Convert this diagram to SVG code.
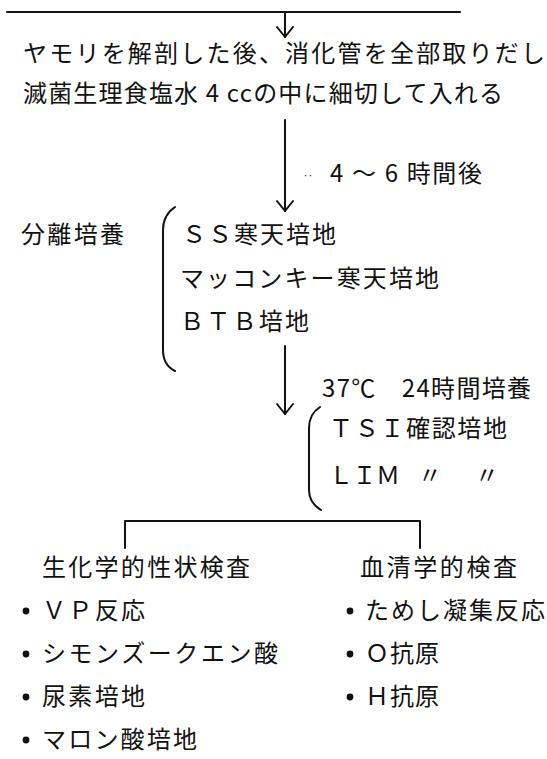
<svg xmlns="http://www.w3.org/2000/svg" width="547" height="759" viewBox="0 0 547 759">
<style>
text{font-family:"Noto Sans CJK JP","Noto Sans CJK SC",sans-serif;font-size:24px;fill:#111;}
.ln{stroke:#111;stroke-width:2;fill:none;stroke-linecap:round;stroke-linejoin:round;}
.dot{fill:#111;}
</style>
<rect width="547" height="759" fill="#fff"/>
<g id="connectors">
<line class="ln" x1="7" y1="12" x2="460" y2="12"/>
<line class="ln" x1="285" y1="12" x2="285" y2="37"/>
<polyline class="ln" points="277,27 285,37 293,27"/>
<line class="ln" x1="285" y1="120" x2="285" y2="211"/>
<polyline class="ln" points="277,201 285,211 293,201"/>
<line class="ln" x1="285" y1="346" x2="285" y2="414"/>
<polyline class="ln" points="277,404 285,414 293,404"/>
<path class="ln" d="M125,548 L125,521 L420,521 L420,548"/>
</g>
<g id="step1">
<text x="23" y="62" textLength="522" lengthAdjust="spacing">ヤモリを解剖した後、消化管を全部取りだし</text>
<text x="23" y="102" textLength="480" lengthAdjust="spacing">滅菌生理食塩水 4 ccの中に細切して入れる</text>
</g>
<g id="label1">
<text x="303" y="180" style="font-size:10px">‥</text>
<text x="330" y="182" textLength="152" lengthAdjust="spacing">4 ～ 6 時間後</text>
</g>
<g id="isolation">
<text x="21" y="243" textLength="103" lengthAdjust="spacing">分離培養</text>
<path class="ln" d="M175,207 Q163,215 163,230 L163,350 Q163,365 175,371"/>
<text x="182" y="243" textLength="154" lengthAdjust="spacing">ＳＳ寒天培地</text>
<text x="180" y="287" textLength="259" lengthAdjust="spacing">マッコンキー寒天培地</text>
<text x="180" y="330" textLength="129" lengthAdjust="spacing">ＢＴＢ培地</text>
</g>
<g id="label2">
<text x="322" y="397" textLength="209" lengthAdjust="spacing">37℃　24時間培養</text>
</g>
<g id="confirm">
<path class="ln" d="M320,407 Q309,414 309,428 L309,490 Q309,503 321,510"/>
<text x="329" y="437" textLength="178" lengthAdjust="spacing">ＴＳＩ確認培地</text>
<text x="329" y="484" textLength="71" lengthAdjust="spacing">ＬＩＭ</text>
<text x="418" y="484">〃</text>
<text x="475" y="484">〃</text>
</g>
<g id="biochem">
<text x="42" y="576" textLength="208" lengthAdjust="spacing">生化学的性状検査</text>
<circle class="dot" cx="26" cy="611" r="3.4"/>
<text x="42" y="619" textLength="103" lengthAdjust="spacing">ＶＰ反応</text>
<circle class="dot" cx="26" cy="654" r="3.4"/>
<text x="42" y="662" textLength="236" lengthAdjust="spacing">シモンズークエン酸</text>
<circle class="dot" cx="26" cy="697" r="3.4"/>
<text x="42" y="705" textLength="103" lengthAdjust="spacing">尿素培地</text>
<circle class="dot" cx="26" cy="740" r="3.4"/>
<text x="42" y="748" textLength="155" lengthAdjust="spacing">マロン酸培地</text>
</g>
<g id="serology">
<text x="360" y="576" textLength="157" lengthAdjust="spacing">血清学的検査</text>
<circle class="dot" cx="350" cy="611" r="3.4"/>
<text x="365" y="619" textLength="180" lengthAdjust="spacing">ためし凝集反応</text>
<circle class="dot" cx="350" cy="654" r="3.4"/>
<text x="365" y="662" textLength="74" lengthAdjust="spacing">Ｏ抗原</text>
<circle class="dot" cx="350" cy="697" r="3.4"/>
<text x="365" y="705" textLength="74" lengthAdjust="spacing">Ｈ抗原</text>
</g>
</svg>
